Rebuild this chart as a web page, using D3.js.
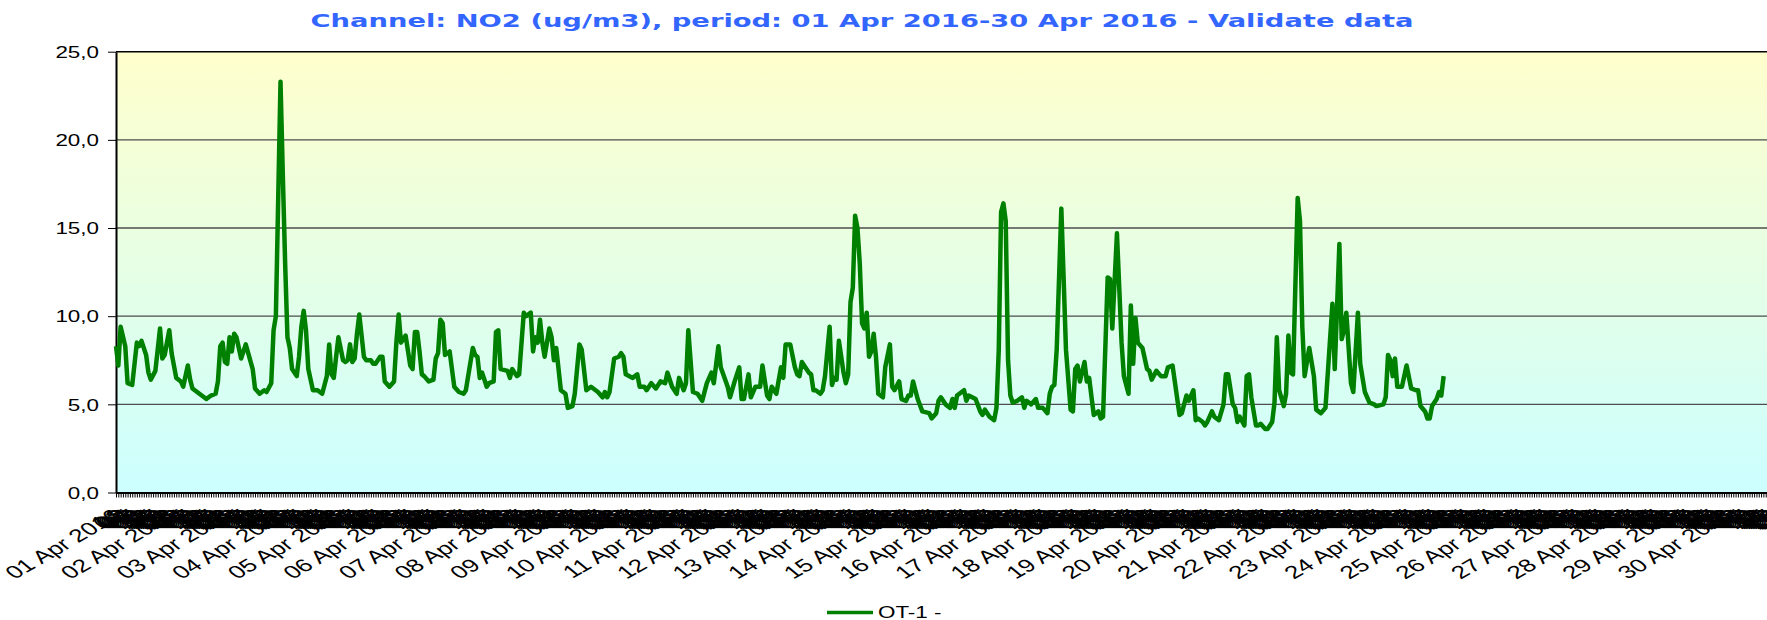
<!DOCTYPE html>
<html>
<head>
<meta charset="utf-8">
<script src="https://cdn.jsdelivr.net/npm/d3@7"></script>
<style>
  body { margin: 0; background: #fff; }
  svg { display: block; }
</style>
</head>
<body>
<div id="chart-holder"></div>
<script>
// NO2 readings, hours counted from 01 Apr 2016 00:00
var hours = [0,1,2,4,5,7,9,10,11,13,14,15,17,19,20,21,23,24,26,28,29,31,32,33,36,39,41,43,44,45,46,47,48,49,50,51,52,54,56,59,60,62,64,65,67,68,69,70,71,72,73,74,75,76,78,79,80,81,82,83,85,87,89,91,92,93,94,95,96,98,99,100,101,102,103,104,105,107,108,110,111,112,114,115,116,118,120,121,122,123,124,125,127,128,129,130,131,132,133,135,137,138,139,140,141,142,144,146,148,150,151,154,155,156,157,158,160,161,163,164,165,166,169,170,171,173,174,176,177,179,180,181,182,183,184,185,187,188,189,190,191,192,194,195,197,198,200,201,203,205,208,210,211,212,213,215,217,218,219,220,223,225,226,228,229,231,233,235,237,238,240,242,243,245,246,247,249,251,253,255,257,258,260,261,264,265,267,269,270,271,273,274,276,278,279,281,282,283,285,287,288,289,291,293,294,295,296,297,299,300,301,302,304,305,306,308,309,310,311,312,314,315,316,317,318,319,320,321,322,323,324,325,326,327,328,329,331,332,334,335,336,338,339,341,342,343,344,346,348,351,352,354,355,356,358,360,361,362,363,366,367,368,371,373,374,375,377,379,380,381,382,383,384,385,386,387,389,391,392,393,395,397,398,400,402,403,404,405,406,408,410,412,413,414,415,416,418,419,420,422,423,424,425,426,428,429,430,432,434,435,437,438,439,440,441,443,445,446,447,449,451,453,454,456,459,460,462,463,465,466,467,469,470,471,473,474,476,478,479,480,482,483,484,485,487,488,489,490,492,493,494,496,497,499,500,501,502,504,505,506,507,508,510,511,512,513,515,517,518,520,522,525,526,527,528,529,530,531,533,534,536,537,539,541,543,544,547,548,549,550,551,552,553,555,557,559,561,562,563,565,566,567,568,570,571,572,573];
var no2 = [8.3,7.2,9.4,8.3,6.2,6.1,8.5,8.3,8.6,7.8,6.8,6.4,6.9,9.3,7.6,7.8,9.2,7.9,6.5,6.3,6.0,7.2,6.4,5.9,5.6,5.3,5.5,5.6,6.3,8.3,8.5,7.4,7.3,8.8,8.0,9.0,8.8,7.6,8.4,7.0,5.9,5.6,5.8,5.7,6.2,9.2,10.0,16.6,23.3,18.0,13.0,8.8,8.2,7.0,6.6,7.7,9.4,10.3,9.2,7.0,5.8,5.8,5.6,6.6,8.4,6.7,6.5,7.7,8.8,7.5,7.4,7.5,8.4,7.4,7.6,9.0,10.1,7.7,7.5,7.5,7.3,7.3,7.7,7.7,6.3,6.0,6.3,8.5,10.1,8.5,8.7,8.9,7.2,7.0,9.1,9.1,8.0,6.7,6.6,6.3,6.4,7.6,7.9,9.8,9.6,7.8,8.0,6.0,5.7,5.6,5.8,8.2,7.8,7.7,6.5,6.8,6.0,6.2,6.3,9.1,9.2,7.0,6.9,6.5,7.0,6.6,6.7,10.2,10.0,10.2,8.0,8.8,8.5,9.8,8.5,7.7,9.3,8.8,7.5,8.2,7.0,5.8,5.6,4.8,4.9,5.6,8.4,8.1,5.8,6.0,5.7,5.4,5.7,5.4,5.7,7.6,7.7,7.9,7.7,6.7,6.5,6.7,6.0,6.0,5.8,6.2,5.9,6.3,6.2,6.8,6.0,5.6,6.5,5.8,6.2,9.2,5.7,5.6,5.2,6.2,6.8,6.2,8.3,7.1,6.0,5.4,6.3,7.1,5.3,5.3,6.7,5.4,6.0,6.0,7.2,5.5,5.3,6.0,5.6,7.1,6.5,8.4,8.4,7.1,6.7,6.6,7.4,7.2,6.8,6.7,5.8,5.8,5.6,5.8,6.6,9.4,6.1,6.5,6.4,8.6,6.8,6.2,6.7,10.8,11.6,15.7,15.0,13.0,9.6,9.3,10.2,7.7,8.0,9.0,7.7,5.6,5.4,7.1,8.4,6.0,5.8,6.3,5.3,5.2,5.5,5.5,6.3,5.3,4.6,4.5,4.2,4.5,5.2,5.4,5.0,4.8,5.3,4.8,5.5,5.8,5.2,5.5,5.3,4.6,4.4,4.7,4.3,4.1,4.8,8.1,15.9,16.4,15.4,7.5,5.5,5.1,5.2,5.4,4.8,5.2,5.0,5.3,4.8,4.8,4.5,5.6,6.0,6.1,8.1,16.1,8.1,4.7,4.6,7.0,7.2,6.3,7.4,6.3,6.5,4.4,4.5,4.6,4.2,4.3,12.2,12.1,9.3,14.7,8.5,6.6,5.6,10.6,7.3,9.9,8.5,8.2,7.0,6.9,6.4,6.9,6.6,6.6,7.1,7.2,4.4,4.5,5.5,5.2,5.8,4.1,4.2,4.0,3.8,4.0,4.6,4.3,4.1,5.0,6.7,6.7,5.0,4.8,4.0,4.3,3.8,6.6,6.7,5.4,3.8,3.8,3.9,3.6,3.6,4.0,5.1,8.8,5.8,4.9,5.6,8.9,6.8,6.7,16.7,15.4,9.4,6.6,8.2,6.6,4.7,4.5,4.8,10.7,7.0,10.5,14.1,8.7,9.2,10.2,6.2,5.7,10.2,7.3,5.7,5.1,5.0,4.9,5.0,5.4,7.8,7.5,6.6,7.6,6.0,6.0,7.2,5.9,5.8,5.8,4.9,4.6,4.2,4.2,4.9,5.3,5.7,5.5,6.6];

var dayLabels = ["01 Apr 2016","02 Apr 2016","03 Apr 2016","04 Apr 2016","05 Apr 2016","06 Apr 2016",
  "07 Apr 2016","08 Apr 2016","09 Apr 2016","10 Apr 2016","11 Apr 2016","12 Apr 2016","13 Apr 2016",
  "14 Apr 2016","15 Apr 2016","16 Apr 2016","17 Apr 2016","18 Apr 2016","19 Apr 2016","20 Apr 2016",
  "21 Apr 2016","22 Apr 2016","23 Apr 2016","24 Apr 2016","25 Apr 2016","26 Apr 2016","27 Apr 2016",
  "28 Apr 2016","29 Apr 2016","30 Apr 2016"];
var hourLabels = ["01","02","03","04","05","06","07","08","09","10","11","12",
  "13","14","15","16","17","18","19","20","21","22","23"];
var yTicks = [0, 5, 10, 15, 20, 25];
var yTickLabels = ["0,0", "5,0", "10,0", "15,0", "20,0", "25,0"];
var seriesName = "OT-1 -";
var chartTitle = "Channel: NO2 (ug/m3), period: 01 Apr 2016-30 Apr 2016 - Validate data";

var width = 1767, height = 620;
var plotLeft = 116, plotTop = 51.7, plotBottom = 492.5;
var hourPx = 2.317;       // the plot runs on past the right edge of the picture
var stretch = 1.4;        // the original text is drawn wider than it is tall

var svg = d3.select("#chart-holder").append("svg")
  .attr("width", width)
  .attr("height", height);

var x = d3.scaleLinear().domain([0, 720]).range([plotLeft, plotLeft + 720 * hourPx]);
var y = d3.scaleLinear().domain([0, 25]).range([plotBottom, plotTop]);

// background gradient yellow -> cyan
var grad = svg.append("defs").append("linearGradient")
  .attr("id", "bg")
  .attr("x1", 0).attr("y1", 0).attr("x2", 0).attr("y2", 1);
grad.append("stop").attr("offset", "0%").attr("stop-color", "#ffffcc");
grad.append("stop").attr("offset", "100%").attr("stop-color", "#ccffff");

svg.append("rect")
  .attr("x", plotLeft).attr("y", y(25))
  .attr("width", width - plotLeft).attr("height", y(0) - y(25))
  .attr("fill", "url(#bg)");

// grid lines
svg.append("g")
  .selectAll("line")
  .data(yTicks.filter(d => d > 0 && d < 25))
  .enter()
  .append("line")
  .attr("x1", plotLeft).attr("x2", width)
  .attr("y1", d => y(d)).attr("y2", d => y(d))
  .style("stroke", "#4d4d4d")
  .style("stroke-width", 1.3);

// top border
svg.append("line")
  .attr("x1", plotLeft).attr("x2", width)
  .attr("y1", y(25)).attr("y2", y(25))
  .style("stroke", "#000")
  .style("stroke-width", 1.5);

// y axis
var yAxis = svg.append("g")
  .attr("transform", "translate(" + plotLeft + ",0)")
  .call(d3.axisLeft(y).tickValues(yTicks).tickSize(8).tickSizeOuter(0)
    .tickFormat((d, i) => yTickLabels[i]));
yAxis.select(".domain").style("stroke", "#000").style("stroke-width", 2);
yAxis.selectAll("text")
  .attr("x", 0)
  .attr("dy", "0.36em")
  .attr("transform", "translate(-17,0) scale(" + stretch + ",1)")
  .style("font-family", "'Liberation Sans', Arial, sans-serif")
  .style("font-size", "16px")
  .style("fill", "#000");

// x axis: one tick per hour, a full date at each midnight
var xAxis = svg.append("g")
  .attr("transform", "translate(0," + plotBottom + ")")
  .call(d3.axisBottom(x).tickValues(d3.range(0, 720)).tickSize(5).tickSizeOuter(0)
    .tickFormat(h => h % 24 === 0 ? dayLabels[h / 24] : hourLabels[h % 24 - 1]));
xAxis.select(".domain").style("stroke", "#000").style("stroke-width", 2);
xAxis.selectAll(".tick line").style("stroke", "#000").style("stroke-width", 1);
xAxis.selectAll("text")
  .attr("x", 0).attr("y", 0).attr("dy", 0)
  .attr("text-anchor", "end")
  .attr("transform", "translate(6,25) scale(1.45,1) rotate(-40)")
  .style("font-family", "'Liberation Sans', Arial, sans-serif")
  .style("font-size", "18px")
  .style("fill", "#000");

// the series
var line = d3.line()
  .x((d, i) => x(hours[i]))
  .y(d => y(d));

svg.append("path")
  .datum(no2)
  .attr("d", line)
  .style("fill", "none")
  .style("stroke", "#008000")
  .style("stroke-width", 4.5)
  .style("stroke-linejoin", "round");

// title
svg.append("text")
  .attr("x", 862).attr("y", 27)
  .attr("text-anchor", "middle")
  .attr("textLength", 1103)
  .attr("lengthAdjust", "spacingAndGlyphs")
  .style("font-family", "'DejaVu Sans', Verdana, sans-serif")
  .style("font-weight", "bold")
  .style("font-size", "18.5px")
  .style("fill", "#3366ff")
  .text(chartTitle);

// legend
var legend = svg.append("g").attr("transform", "translate(827,612.5)");
legend.append("line")
  .attr("x1", 0).attr("x2", 46)
  .style("stroke", "#008000")
  .style("stroke-width", 3.5);
legend.append("text")
  .attr("transform", "translate(51,5.5) scale(" + stretch + ",1)")
  .style("font-family", "'Liberation Sans', Arial, sans-serif")
  .style("font-size", "16px")
  .style("fill", "#000")
  .text(seriesName);
</script>
</body>
</html>
